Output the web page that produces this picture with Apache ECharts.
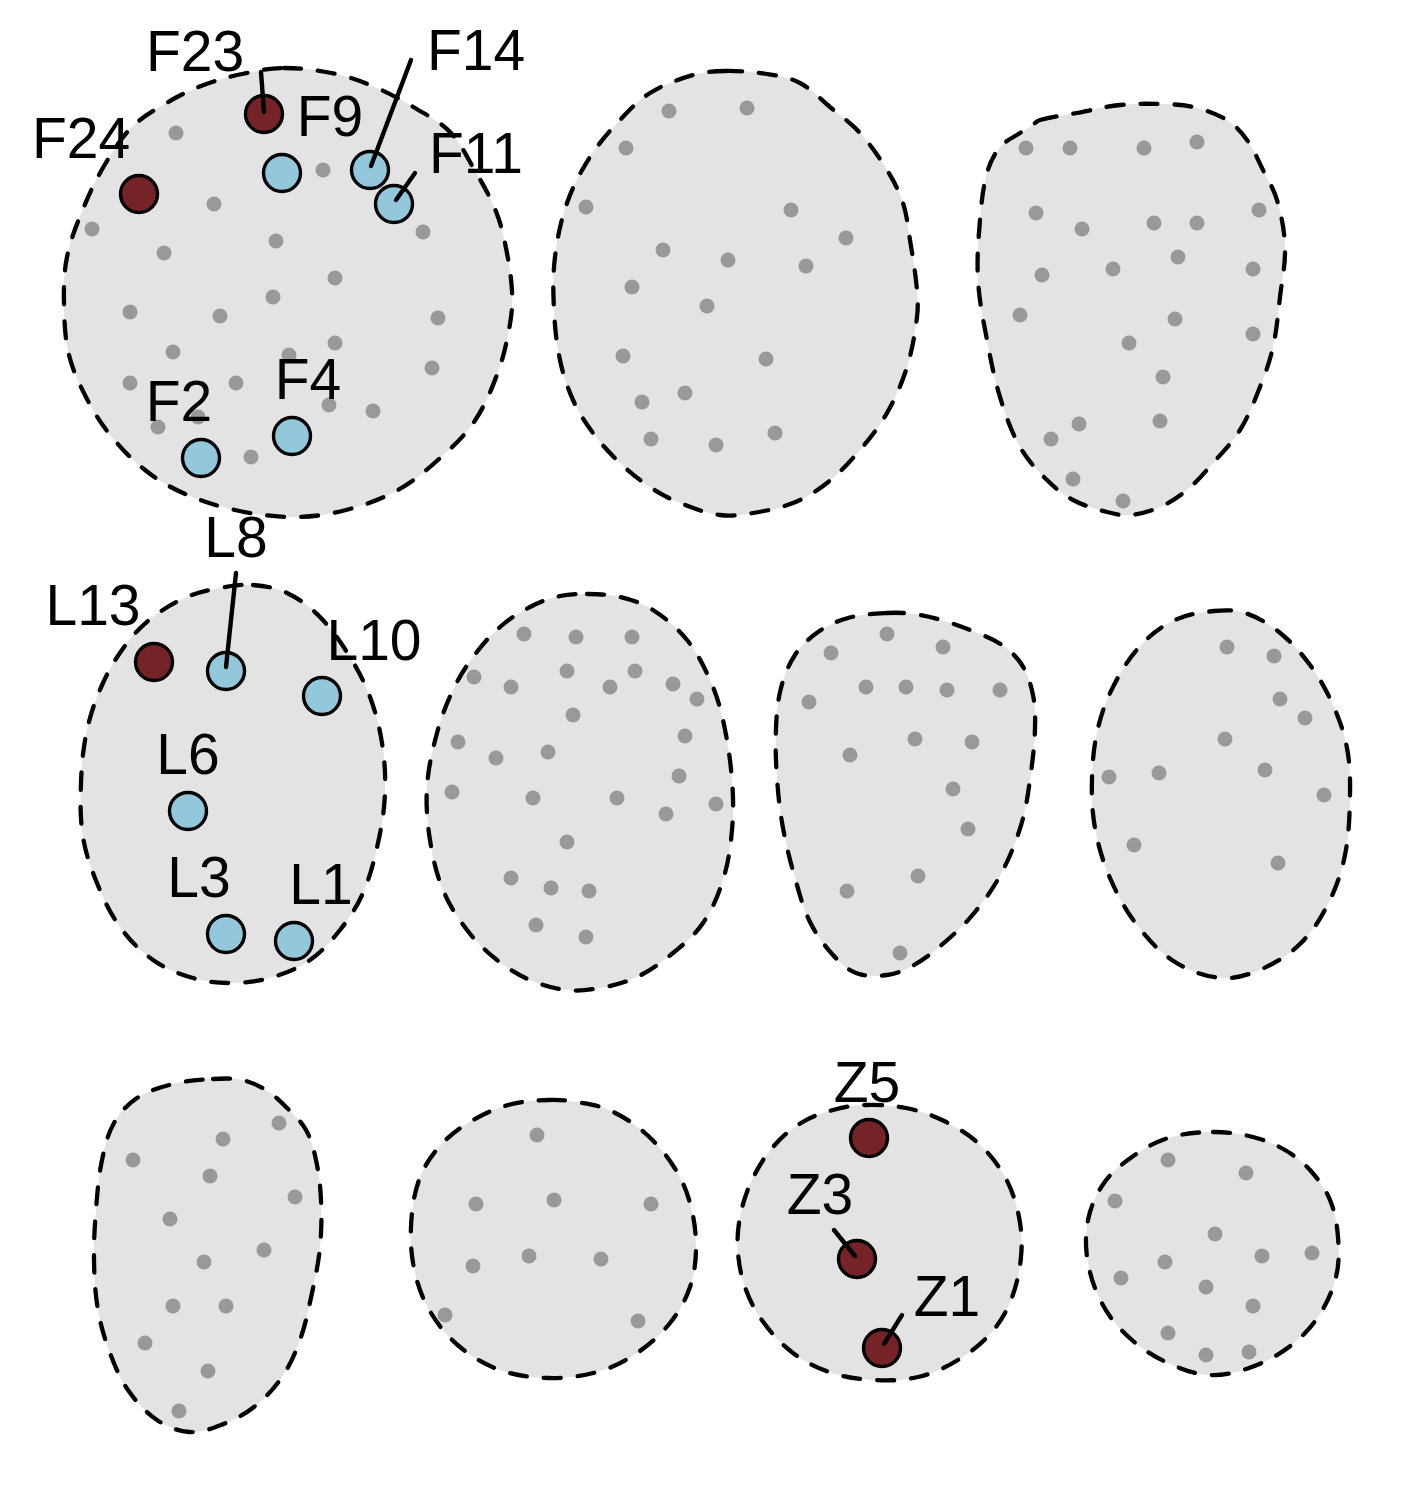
<!DOCTYPE html>
<html>
<head>
<meta charset="utf-8">
<script src="https://cdn.jsdelivr.net/npm/echarts@6/dist/echarts.min.js"></script>
<style>
html,body{margin:0;padding:0;background:#fff;}
#chart{width:1410px;height:1500px;}
</style>
</head>
<body>
<div id="chart"></div>
<script>
// ---- Outlines of each group (data coordinates) ----
const outline1 = [[284,68],[336,74],[377,88],[415,108],[450,132],[474,169],[495,209],[505,243],[512,291],[510,324],[498,372],[474,422],[439,459],[398,490],[346,510],[294,517],[235,510],[183,493],[145,470],[111,436],[87,399],[69,355],[64,304],[67,257],[83,209],[104,166],[131,128],[163,105],[201,86],[242,74]];
const outline2 = [[725,71],[767,74],[800,83],[830,107],[860,133],[887,170],[903,203],[910,240],[917,290],[917,317],[907,367],[887,413],[860,450],[827,483],[793,503],[753,513],[720,515],[680,503],[650,487],[620,463],[593,433],[573,400],[560,360],[554,310],[555,257],[567,203],[590,157],[620,120],[650,93],[693,75]];
const outline3 = [[1040,120],[1077,113],[1120,105],[1160,104],[1193,107],[1227,120],[1247,140],[1263,170],[1277,200],[1285,247],[1280,297],[1273,347],[1260,387],[1240,430],[1213,463],[1187,490],[1160,507],[1130,515],[1107,512],[1073,500],[1047,480],[1020,447],[1000,397],[987,340],[978,280],[980,220],[987,173],[1000,147],[1020,133],[1030,127]];
const outline4 = [[253,585],[287,593],[320,617],[350,657],[370,697],[382,743],[385,793],[378,843],[363,893],[340,930],[310,960],[273,977],[233,983],[193,978],[153,960],[120,927],[97,883],[83,837],[81,783],[87,730],[103,683],[127,643],[153,617],[187,597],[220,588]];
const outline5 = [[587,594],[620,597],[653,610],[687,640],[710,680],[723,720],[732,780],[732,830],[723,880],[703,923],[673,953],[637,977],[600,988],[567,990],[530,980],[497,960],[467,930],[443,890],[430,840],[427,787],[437,733],[453,690],[473,657],[500,627],[530,607],[560,596]];
const outline6 = [[887,613],[914,614],[941,620],[975,632],[1002,645],[1022,665],[1033,695],[1035,728],[1031,772],[1022,822],[1002,872],[975,912],[945,942],[914,965],[887,975],[856,973],[833,955],[810,922],[795,878],[783,828],[777,778],[776,728],[781,688],[795,655],[818,632],[848,618]];
const outline7 = [[1214,611],[1245,613],[1279,632],[1310,665],[1333,705],[1347,748],[1350,795],[1345,855],[1329,902],[1302,942],[1264,968],[1222,978],[1175,962],[1137,925],[1110,878],[1095,828],[1092,778],[1098,728],[1114,685],[1141,645],[1175,620]];
const outline8 = [[213,1079],[242,1080],[266,1090],[286,1107],[306,1130],[316,1160],[321,1200],[320,1247],[312,1293],[300,1340],[282,1377],[254,1407],[221,1425],[189,1432],[157,1420],[128,1390],[110,1353],[98,1310],[94,1260],[96,1210],[102,1160],[114,1123],[137,1098],[173,1084]];
const outline9 = [[548,1100],[577,1102],[609,1110],[645,1133],[674,1167],[690,1203],[696,1247],[690,1287],[670,1323],[637,1353],[597,1372],[548,1378],[500,1370],[460,1347],[431,1313],[415,1273],[411,1227],[419,1180],[439,1147],[468,1123],[508,1105]];
const outline10 = [[865,1105],[906,1108],[942,1120],[978,1143],[1005,1177],[1019,1217],[1021,1257],[1011,1300],[991,1333],[958,1360],[918,1377],[873,1380],[829,1372],[793,1353],[764,1323],[746,1290],[738,1253],[740,1217],[752,1180],[773,1147],[801,1123],[833,1110]];
const outline11 = [[1213,1132],[1253,1137],[1285,1150],[1310,1170],[1330,1200],[1338,1237],[1336,1277],[1318,1317],[1289,1347],[1249,1368],[1209,1375],[1168,1363],[1132,1340],[1104,1307],[1088,1263],[1088,1220],[1104,1183],[1132,1157],[1168,1138]];

// ---- Background (grey) points per group ----
const dots1 = [[176,133],[323,170],[214,204],[92,229],[423,232],[276,241],[164,253],[335,278],[273,297],[130,312],[220,316],[438,318],[173,352],[335,343],[289,355],[432,368],[130,383],[236,383],[329,405],[373,411],[158,427],[198,417],[251,457]];
const dots2 = [[669,111],[747,108],[626,148],[586,207],[791,210],[846,238],[663,250],[728,260],[806,266],[632,287],[707,306],[623,356],[766,359],[685,393],[642,402],[651,439],[716,445],[775,433]];
const dots3 = [[1026,148],[1070,148],[1144,148],[1197,142],[1036,213],[1082,229],[1154,223],[1197,223],[1259,210],[1178,257],[1113,269],[1042,275],[1253,269],[1020,315],[1175,319],[1253,334],[1129,343],[1163,377],[1160,421],[1079,424],[1051,439],[1073,479],[1123,501]];
const dots5 = [[524,634],[576,637],[632,637],[474,677],[511,687],[567,671],[610,687],[635,671],[673,684],[697,699],[573,715],[458,742],[496,758],[548,752],[685,736],[679,776],[452,792],[533,798],[617,798],[666,814],[716,804],[567,842],[511,878],[551,888],[589,891],[536,925],[586,937]];
const dots6 = [[887,634],[831,653],[943,647],[866,687],[906,687],[947,690],[1000,690],[809,702],[915,739],[972,742],[850,755],[953,789],[968,829],[918,876],[847,891],[900,953]];
const dots7 = [[1227,647],[1274,656],[1280,699],[1305,718],[1225,739],[1265,770],[1109,777],[1159,773],[1324,795],[1134,845],[1278,863]];
const dots8 = [[279,1123],[223,1139],[133,1160],[210,1176],[295,1197],[170,1219],[264,1250],[204,1262],[173,1306],[226,1306],[145,1343],[208,1371],[179,1411]];
const dots9 = [[537,1135],[476,1204],[554,1200],[651,1204],[473,1266],[529,1256],[601,1259],[445,1315],[638,1321]];
const dots11 = [[1168,1160],[1246,1173],[1115,1201],[1215,1234],[1262,1256],[1312,1253],[1165,1262],[1121,1278],[1206,1287],[1253,1306],[1168,1333],[1206,1355],[1249,1352]];

// ---- Highlighted points ----
const hlNames = ['F23','F24','F9','F14','F11','F2','F4','L13','L8','L10','L6','L3','L1','Z5','Z3','Z1'];
const hlX = [264,139,282,370,394,201,292,154,226,322,188,226,294,869,857,882];
const hlY = [114,194,173,170,204,458,436,662,671,696,811,934,941,1138,1259,1348];
const hlGroup = ['red','red','blue','blue','blue','blue','blue','red','blue','blue','blue','blue','blue','red','red','red'];

// ---- Label anchor positions ----
const labelX = [195,81,330,476,476,179,308,93,236,374,188,199,321,867,820,947];
const labelY = [55,142,120,54,157,405,383,609,541,644,758,881,888,1086,1198,1300];

// ---- Leader segments [from label, to point] ----
const leaderF23 = [[261,72],[264,112]];
const leaderF14 = [[411,60],[371,166]];
const leaderF11 = [[415,173],[396,200]];
const leaderL8 = [[236,573],[226,667]];
const leaderZ3 = [[834,1230],[855,1256]];
const leaderZ1 = [[902,1315],[884,1344]];

const outlines = [outline1,outline2,outline3,outline4,outline5,outline6,outline7,outline8,outline9,outline10,outline11];
const allDots = [].concat(dots1,dots2,dots3,dots5,dots6,dots7,dots8,dots9,dots11);
const leaders = [leaderF23,leaderF14,leaderF11,leaderL8,leaderZ3,leaderZ1];

const colorMap = {red:'#752326', blue:'#93c8dc'};

const chart = echarts.init(document.getElementById('chart'), null, {renderer:'canvas'});

const series = [];
series.push({
  type:'custom',
  z:1,
  silent:true,
  data: outlines.map((o,i)=>[i]),
  renderItem: function(params, api){
    const o = outlines[params.dataIndex];
    const pts = o.map(p=>api.coord(p));
    return {
      type:'polygon',
      shape:{points:pts, smooth:0.35},
      style:{fill:'#e3e3e3', stroke:'#000000', lineWidth:4.3, lineDash:[17,17], lineCap:'round'}
    };
  }
});
series.push({
  type:'scatter',
  z:2,
  silent:true,
  symbolSize:15,
  itemStyle:{color:'#999999', opacity:1},
  data: allDots
});
series.push({
  type:'scatter',
  z:3,
  silent:true,
  symbolSize:37,
  data: hlNames.map((n,i)=>({value:[hlX[i],hlY[i]], itemStyle:{color:colorMap[hlGroup[i]], borderColor:'#000', borderWidth:3.4, opacity:1}}))
});
leaders.forEach(function(l){
  series.push({
    type:'line',
    z:4,
    silent:true,
    symbol:'none',
    lineStyle:{color:'#000', width:4.4, cap:'round'},
    data:l
  });
});
series.push({
  type:'custom',
  z:5,
  silent:true,
  data: hlNames.map((n,i)=>[labelX[i],labelY[i]]),
  renderItem: function(params, api){
    const c = api.coord([api.value(0), api.value(1)]);
    return {
      type:'text',
      x:c[0], y:c[1],
      style:{text:hlNames[params.dataIndex], fontSize:57, fontFamily:'"Liberation Sans", Arial, sans-serif', fill:'#000', align:'center', verticalAlign:'middle'}
    };
  }
});

chart.setOption({
  animation:false,
  backgroundColor:'#ffffff',
  grid:{left:0,right:0,top:0,bottom:0},
  xAxis:{type:'value', min:0, max:1410, show:false},
  yAxis:{type:'value', min:0, max:1500, inverse:true, show:false},
  series: series
});
</script>
</body>
</html>
